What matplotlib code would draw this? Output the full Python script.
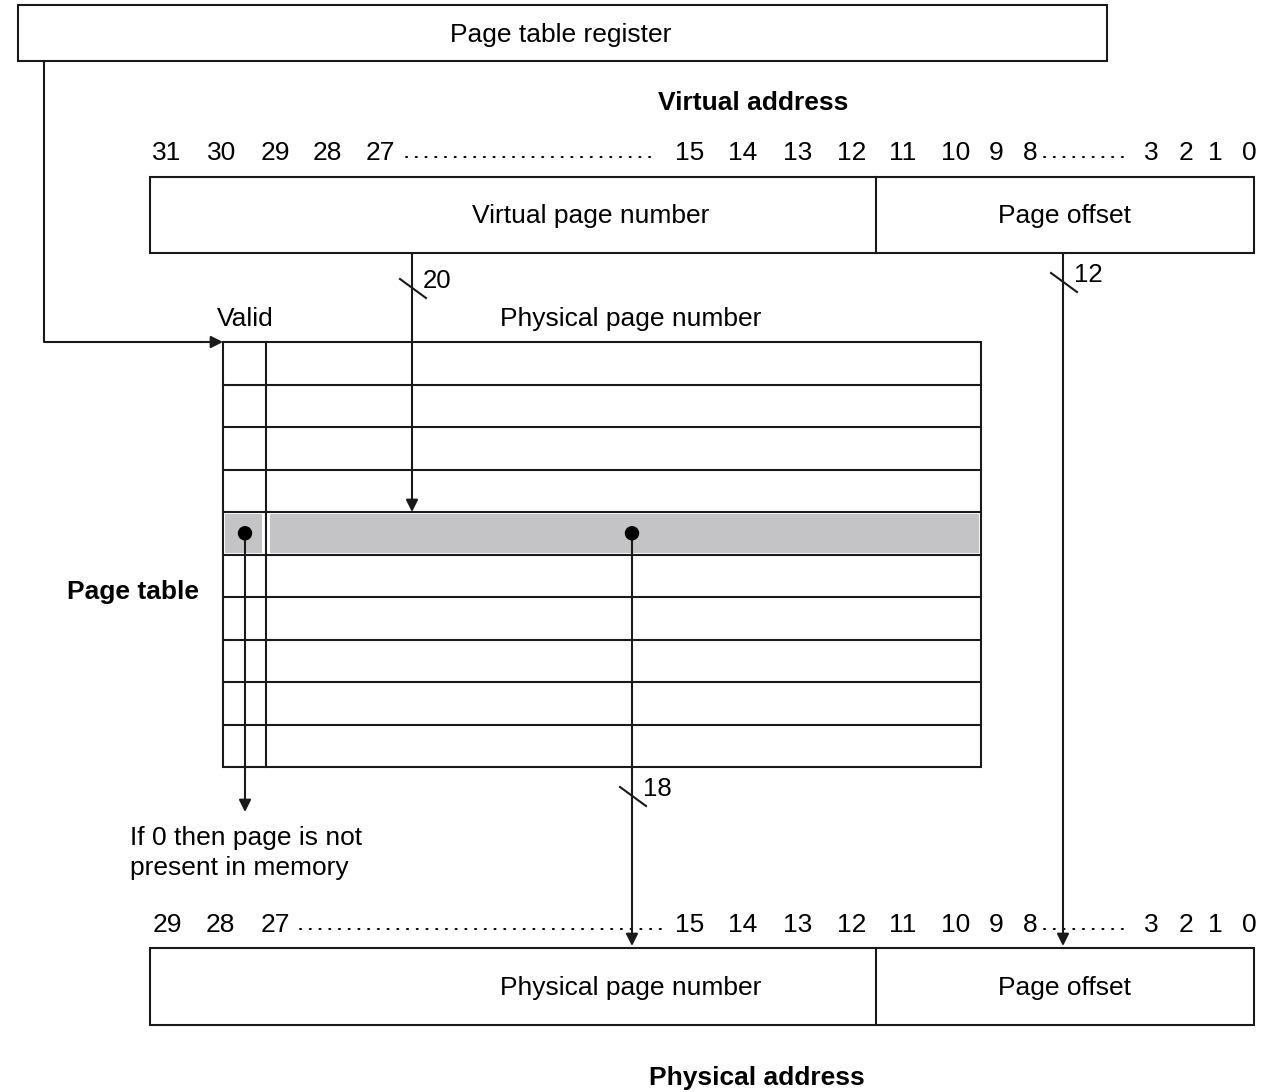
import matplotlib
matplotlib.use('Agg')
import matplotlib.pyplot as plt
from matplotlib.patches import Rectangle, Circle

plt.rcParams['font.family'] = ['Liberation Sans', 'DejaVu Sans']

# ---------------------------------------------------------------------------
# Diagram content
# ---------------------------------------------------------------------------
virt_bits_hi = ['31', '30', '29', '28', '27']
phys_bits_hi = ['29', '28', '27']
bits_mid = ['15', '14', '13', '12', '11', '10', '9', '8']
bits_lo = ['3', '2', '1', '0']

vpn_width = 20
offset_width = 12
ppn_width = 18
n_rows = 10
selected_row = 4

LW = 1.5
INK = '#1a1a1a'
FS = 19
DY = 2  # nudge text down so cap height sits centred

# layout (pixel coordinates, y grows downward)
hi_x_virt = [167, 222, 275, 327, 380]
hi_x_phys = [167, 220, 275]
mid_x = [690, 743, 798, 852, 903, 956, 996, 1030]
lo_x = [1151, 1186, 1215, 1249]

fig = plt.figure(figsize=(12.78, 10.92), dpi=100)
ax = fig.add_axes([0, 0, 1, 1])
ax.set_xlim(0, 1278)
ax.set_ylim(1092, 0)
ax.axis('off')


def label(x, y, s, bold=False, ha='center', **kw):
    ax.text(x, y + DY, s, fontsize=FS, ha=ha, va='center',
            fontweight='bold' if bold else 'normal', **kw)


def box(x0, y0, x1, y1):
    ax.add_patch(Rectangle((x0, y0), x1 - x0, y1 - y0, fill=False,
                           edgecolor=INK, lw=LW))


def arrow(x0, y0, x1, y1):
    ax.annotate('', xy=(x1, y1), xytext=(x0, y0),
                arrowprops=dict(arrowstyle='-|>', color=INK, lw=LW,
                                mutation_scale=18, shrinkA=0, shrinkB=0))


def slash(x, y, txt):
    ax.plot([x - 12, x + 14], [y - 10, y + 9], color=INK, lw=LW)
    ax.text(x + 11, y - 8, txt, fontsize=18.5, ha='left', va='center')


def bit_row(y, hi, hi_x, dots_hi):
    for lab, x in zip(hi + bits_mid + bits_lo, hi_x + mid_x + lo_x):
        label(x, y, lab)
    for x0, x1 in (dots_hi, (1044, 1130)):
        ax.plot([x0, x1], [y + 6, y + 6], color='black', lw=1.4,
                linestyle=(0, (0.6, 4.4)), dash_capstyle='round')


# page table register
box(18, 5, 1107, 61)
label(561, 33, 'Page table register')
ax.plot([44, 44, 200], [61, 342, 342], color=INK, lw=LW)
arrow(200, 342, 223, 342)

# virtual address
label(753, 101, 'Virtual address', bold=True)
bit_row(151, virt_bits_hi, hi_x_virt, (406, 658))
box(150, 177, 1254, 253)
ax.plot([876, 876], [177, 253], color=INK, lw=LW)
label(591, 214, 'Virtual page number')
label(1065, 214, 'Page offset')

# page table
label(245, 317, 'Valid')
label(631, 317, 'Physical page number')
label(133, 590, 'Page table', bold=True)

pt_x0, pt_x1, pt_y0, pt_y1 = 223, 981, 342, 767
valid_x = 266
row_h = (pt_y1 - pt_y0) / n_rows
sy0 = pt_y0 + selected_row * row_h
sy1 = sy0 + row_h
ax.add_patch(Rectangle((pt_x0 + 2, sy0 + 2), valid_x - pt_x0 - 6, row_h - 4,
                       facecolor='#c4c4c6', edgecolor='none'))
ax.add_patch(Rectangle((valid_x + 4, sy0 + 2), pt_x1 - valid_x - 6, row_h - 4,
                       facecolor='#c4c4c6', edgecolor='none'))
box(pt_x0, pt_y0, pt_x1, pt_y1)
for i in range(1, n_rows):
    y = pt_y0 + i * row_h
    ax.plot([pt_x0, pt_x1], [y, y], color=INK, lw=LW)
ax.plot([valid_x, valid_x], [pt_y0, pt_y1], color=INK, lw=LW)

dot_y = (sy0 + sy1) / 2
ax.add_patch(Circle((245, dot_y), 6.5, color='black', zorder=5))
ax.add_patch(Circle((632, dot_y), 6.5, color='black', zorder=5))

# arrows
arrow(412, 253, 412, sy0)
slash(412, 289, str(vpn_width))
arrow(1063, 253, 1063, 946)
slash(1063, 283, str(offset_width))
arrow(245, dot_y, 245, 812)
arrow(632, dot_y, 632, 946)
slash(632, 797, str(ppn_width))

ax.text(130, 851 + DY, 'If 0 then page is not\npresent in memory', fontsize=FS,
        ha='left', va='center', linespacing=1.3)

# physical address
bit_row(923, phys_bits_hi, hi_x_phys, (300, 662))
box(150, 948, 1254, 1025)
ax.plot([876, 876], [948, 1025], color=INK, lw=LW)
label(631, 986, 'Physical page number')
label(1065, 986, 'Page offset')
label(757, 1076, 'Physical address', bold=True)

fig.savefig('out.png', dpi=100)
